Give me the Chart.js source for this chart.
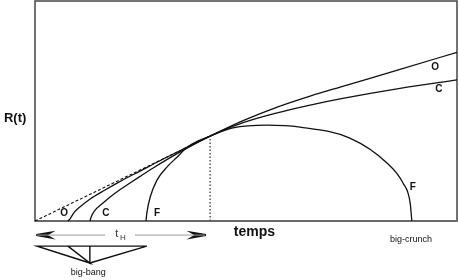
<!DOCTYPE html>
<html>
<head>
<meta charset="utf-8">
<script src="https://cdn.jsdelivr.net/npm/chart.js@4.4.1/dist/chart.umd.min.js"></script>
<style>
  html, body { margin: 0; padding: 0; background: #fff; }
  canvas { display: block; }
</style>
</head>
<body>
<canvas id="cosmo" width="459" height="280"></canvas>
<script>
// R(t) for the three model universes
// units: t and R both on a 0..100 scale (frame = 0..100)
const ouvertT = [7.8, 8.3, 9.2, 10.7, 13.0, 16.6, 20.1, 24.9, 29.6, 35.6, 41.5, 49.3, 57.4, 65.2, 72.3, 86.5, 100];
const ouvertR = [0, 1.0, 3.7, 6.5, 9.9, 14.1, 17.9, 22.7, 27.4, 33.1, 38.6, 45.6, 51.8, 56.8, 60.9, 68.9, 76.7];

const critiqueT = [13.0, 13.4, 14.2, 15.9, 17.8, 20.1, 21.8, 24.9, 28.0, 34.4, 41.5, 49.3, 57.4, 65.2, 72.3, 86.5, 100];
const critiqueR = [0, 2.3, 4.8, 7.8, 10.9, 14.2, 16.4, 20.3, 24.1, 31.4, 38.6, 44.7, 49.2, 52.7, 55.5, 60.3, 64.1];

const fermeT = [26.3, 26.5, 27.3, 28.9, 31.3, 33.7, 36.0, 39.1, 41.5, 46.9, 55.0, 62.8, 74.6, 83.4, 87.2, 88.9, 89.3];
const fermeR = [0, 3.6, 10.9, 18.6, 24.6, 29.1, 33.4, 36.8, 38.6, 42.3, 43.6, 42.7, 37.7, 26.4, 17.3, 8.2, 0];

// linear expansion (Hubble) and the present time t_H
const hubbleT = [0, 41.5];
const hubbleR = [0, 38.6];
const presentT = [41.5, 41.5];
const presentR = [0, 38.6];

// t_H arrow under the axis (gap left for its label)
const arrowLeftT = [0.5, 16.6];
const arrowRightT = [23.7, 40.3];
const arrowY = -6.4;
const headLeftT = [0.3, 3.6, 2.6, 3.6, 0.3, 2.6];
const headRightT = [40.5, 37.2, 38.2, 37.2, 40.5, 38.2];
const headR = [-6.4, -5.3, -6.4, -7.5, -6.4, -6.4];

// big-bang fan: the start of each curve converges to one point
const fanTopT = [0.5, 7.8, 13.0, 26.5];
const fanTopR = -11.4;
const fanApex = [13.0, -19.1];

// texts
const labelText = ['O', 'C', 'F', 'F', 'O', 'C', 'temps', 'big-crunch', 'big-bang', 'R(t)'];
const labelT = [6.9, 16.8, 28.9, 89.5, 94.8, 95.7, 52.0, 89.1, 12.6, -4.7];
const labelR = [3.6, 3.6, 3.6, 15.5, 70.0, 60.0, -5.0, -8.6, -23.6, 46.8];
const labelFont = ['bold 10px', 'bold 10px', 'bold 10px', 'bold 10px', 'bold 10px', 'bold 10px',
                   'bold 14px', '9px', '9px', 'bold 13px'];

function pts(xs, ys){
  return xs.map((x, i) => ({ x, y: Array.isArray(ys) ? ys[i] : ys }));
}

function fanPath(){
  // last top -> apex -> each other top and back -> along the base
  const apex = { x: fanApex[0], y: fanApex[1] };
  const out = [{ x: fanTopT[3], y: fanTopR }, apex];
  for (let i = 2; i >= 0; i--){
    out.push({ x: fanTopT[i], y: fanTopR });
    if (i > 0) out.push(apex);
  }
  out.push({ x: fanTopT[3], y: fanTopR });
  return out;
}

const curve = (data) => ({
  data, borderColor: '#111', borderWidth: 1.3, pointRadius: 0,
  cubicInterpolationMode: 'monotone', fill: false, clip: false
});
const straight = (data, extra) => Object.assign({
  data, borderColor: '#111', borderWidth: 1.2, pointRadius: 0,
  tension: 0, fill: false, clip: false
}, extra);

const frame = {
  id: 'frame',
  beforeDatasetsDraw(chart){
    const { ctx, chartArea: a } = chart;
    ctx.save();
    ctx.strokeStyle = '#444';
    ctx.lineWidth = 1.5;
    ctx.strokeRect(a.left, a.top, a.right - a.left, a.bottom - a.top);
    ctx.strokeStyle = '#6a6a6a';
    ctx.lineWidth = 2;
    ctx.beginPath();
    ctx.moveTo(a.left, a.bottom);
    ctx.lineTo(a.right, a.bottom);
    ctx.stroke();
    ctx.restore();
  }
};

const texts = {
  id: 'texts',
  afterDatasetsDraw(chart){
    const { ctx, scales: { x, y } } = chart;
    ctx.save();
    ctx.fillStyle = '#111';
    ctx.textAlign = 'center';
    ctx.textBaseline = 'middle';
    labelText.forEach((t, i) => {
      ctx.font = labelFont[i] + ' "Liberation Sans", Arial, sans-serif';
      ctx.fillText(t, x.getPixelForValue(labelT[i]), y.getPixelForValue(labelR[i]));
    });
    // t with subscript H
    const tx = x.getPixelForValue(20.1), ty = y.getPixelForValue(arrowY);
    ctx.fillStyle = '#333';
    ctx.font = '11px "Liberation Sans", Arial, sans-serif';
    ctx.fillText('t', tx - 3, ty - 1);
    ctx.font = '8px "Liberation Sans", Arial, sans-serif';
    ctx.fillText('H', tx + 3, ty + 3);
    ctx.restore();
  }
};

new Chart(document.getElementById('cosmo'), {
  type: 'line',
  data: {
    datasets: [
      curve(pts(ouvertT, ouvertR)),
      curve(pts(critiqueT, critiqueR)),
      curve(pts(fermeT, fermeR)),
      straight(pts(hubbleT, hubbleR), { borderDash: [3, 2], borderWidth: 1.1 }),
      straight(pts(presentT, presentR), { borderDash: [1.5, 2], borderColor: '#555', borderWidth: 1.5 }),
      straight(pts(arrowLeftT, arrowY), { borderColor: '#999', borderWidth: 1 }),
      straight(pts(arrowRightT, arrowY), { borderColor: '#999', borderWidth: 1 }),
      straight(pts(headLeftT, headR), { borderWidth: 2, borderJoinStyle: 'miter' }),
      straight(pts(headRightT, headR), { borderWidth: 2, borderJoinStyle: 'miter' }),
      straight(fanPath(), { borderWidth: 1.4 })
    ]
  },
  options: {
    responsive: false,
    devicePixelRatio: 1,
    animation: false,
    layout: { padding: { left: 35, top: 1, right: 2, bottom: 59 } },
    plugins: { legend: { display: false }, tooltip: { enabled: false } },
    scales: {
      x: { type: 'linear', min: 0, max: 100, display: false },
      y: { type: 'linear', min: 0, max: 100, display: false }
    }
  },
  plugins: [frame, texts]
});
</script>
</body>
</html>
